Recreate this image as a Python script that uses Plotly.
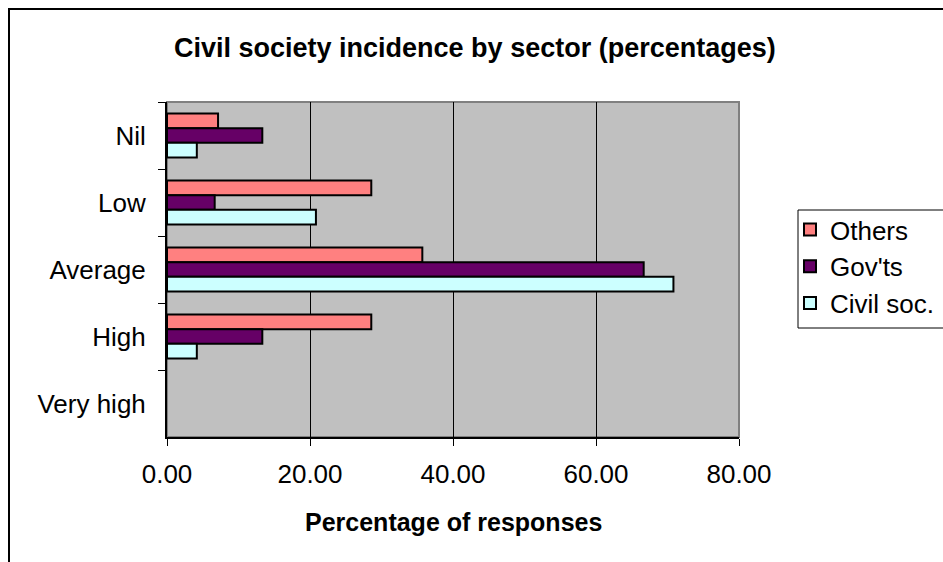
import plotly.graph_objects as go

# Incidence levels (top to bottom) and share of responses per sector
levels = ["Nil", "Low", "Average", "High", "Very high"]
others = [7.14, 28.57, 35.71, 28.57, 0.0]
govts = [13.33, 6.67, 66.67, 13.33, 0.0]
civil_soc = [4.17, 20.83, 70.83, 4.17, 0.0]

x_ticks = [0, 20, 40, 60, 80]

W, H = 943, 562
L, R, T, B = 167, 204, 102, 125
PW, PH = W - L - R, H - T - B


def px_x(x):
    return (x - L) / PW


def px_y(y):
    return 1 - (y - T) / PH


FONT = "Liberation Sans, Arial, sans-serif"

fig = go.Figure()
series = [("Others", others, "#FF8080"),
          ("Gov'ts", govts, "#660066"),
          ("Civil soc.", civil_soc, "#CCFFFF")]
for name, vals, color in series:
    # no outline on empty bars so nothing is drawn for zero values
    outline = [2 if v > 0 else 0 for v in vals]
    fig.add_trace(go.Bar(
        y=levels, x=vals, name=name, orientation="h", legendgroup=name,
        marker=dict(color=color, line=dict(color="black", width=outline)),
    ))

fig.update_layout(
    width=W, height=H,
    margin=dict(l=L, r=R, t=T, b=B, pad=0, autoexpand=False),
    paper_bgcolor="white",
    plot_bgcolor="#C0C0C0",
    barmode="group",
    bargap=0.34,
    bargroupgap=0,
    font=dict(family=FONT, size=26, color="black"),
    showlegend=True,
    legend=dict(
        x=px_x(790), y=px_y(206), xanchor="left", yanchor="top",
        bgcolor="rgba(0,0,0,0)", borderwidth=0,
        font=dict(family=FONT, size=26, color="black"),
        traceorder="normal", tracegroupgap=8,
    ),
    xaxis=dict(
        range=[0, 80], tickvals=x_ticks, tickformat=".2f",
        showgrid=True, gridcolor="black", gridwidth=1,
        zeroline=False,
        showline=True, linecolor="black", linewidth=2,
        ticks="outside", ticklen=7, tickcolor="black", tickwidth=1,
        ticklabelstandoff=6,
        tickfont=dict(family=FONT, size=26),
    ),
    yaxis=dict(
        categoryorder="array", categoryarray=levels,
        autorange="reversed",
        showgrid=False, zeroline=False,
        showline=True, linecolor="black", linewidth=2,
        ticks="outside", ticklen=7, tickcolor="black", tickwidth=1,
        tickson="boundaries",
        ticklabelstandoff=14,
        tickfont=dict(family=FONT, size=26),
    ),
    shapes=[
        # plot area border (grey top/right edge)
        dict(type="rect", xref="paper", yref="paper", x0=0, x1=1, y0=0, y1=1,
             line=dict(color="#808080", width=2), layer="below"),
        # outer chart frame
        dict(type="rect", xref="paper", yref="paper",
             x0=px_x(9), x1=px_x(990), y0=px_y(9), y1=px_y(620),
             line=dict(color="black", width=2)),
        # legend box
        dict(type="rect", xref="paper", yref="paper",
             x0=px_x(798), x1=px_x(990), y0=px_y(210), y1=px_y(328),
             line=dict(color="black", width=1), fillcolor="rgba(0,0,0,0)"),
    ],
    annotations=[
        dict(text="<b>Civil society incidence by sector (percentages)</b>",
             xref="paper", yref="paper", x=px_x(475), y=px_y(48),
             xanchor="center", yanchor="middle", showarrow=False,
             font=dict(family=FONT, size=27)),
        dict(text="<b>Percentage of responses</b>",
             xref="paper", yref="paper", x=px_x(453), y=px_y(522),
             xanchor="center", yanchor="middle", showarrow=False,
             font=dict(family=FONT, size=25)),
    ],
)

fig.write_html("out.html")
